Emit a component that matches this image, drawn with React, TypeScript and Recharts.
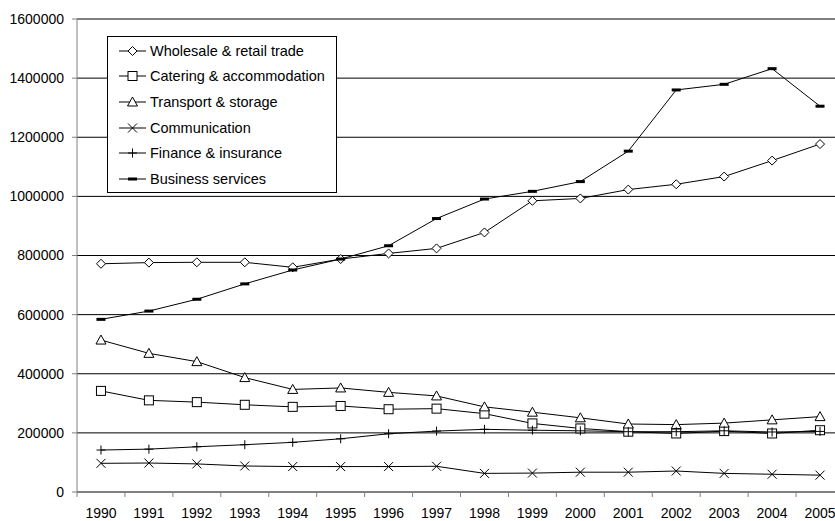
import React from 'react'
import { LineChart, Line, XAxis, YAxis, CartesianGrid, Legend } from 'recharts'

// categories
const years = ['1990', '1991', '1992', '1993', '1994', '1995', '1996', '1997', '1998', '1999', '2000', '2001', '2002', '2003', '2004', '2005']

// series values
const wholesale = [772000, 776000, 777000, 777000, 760000, 788000, 807000, 824000, 878000, 985000, 993000, 1023000, 1041000, 1067000, 1121000, 1177000]
const catering = [342000, 310000, 304000, 295000, 288000, 291000, 280000, 282000, 265000, 232000, 215000, 204000, 198000, 206000, 198000, 209000]
const transport = [514000, 469000, 441000, 387000, 347000, 352000, 337000, 325000, 288000, 270000, 251000, 230000, 228000, 233000, 244000, 255000]
const communication = [97000, 98000, 95000, 88000, 86000, 86000, 86000, 87000, 63000, 64000, 67000, 67000, 71000, 63000, 60000, 57000]
const finance = [142000, 145000, 153000, 160000, 168000, 180000, 197000, 206000, 212000, 209000, 207000, 204000, 204000, 207000, 203000, 205000]
const business = [584000, 612000, 652000, 704000, 751000, 788000, 833000, 925000, 991000, 1017000, 1050000, 1153000, 1360000, 1379000, 1432000, 1305000]

// y tick labels
const yTicks = [0, 200000, 400000, 600000, 800000, 1000000, 1200000, 1400000, 1600000]

const series = [
  { key: 'wholesale', name: 'Wholesale & retail trade', shape: 'diamond' },
  { key: 'catering', name: 'Catering & accommodation', shape: 'square' },
  { key: 'transport', name: 'Transport & storage', shape: 'triangle' },
  { key: 'communication', name: 'Communication', shape: 'cross' },
  { key: 'finance', name: 'Finance & insurance', shape: 'plus' },
  { key: 'business', name: 'Business services', shape: 'dash' },
]

const data = years.map((year, i) => ({
  year,
  wholesale: wholesale[i],
  catering: catering[i],
  transport: transport[i],
  communication: communication[i],
  finance: finance[i],
  business: business[i],
}))

const FONT = 'Arial, "Liberation Sans", sans-serif'
const CHART_W = 860
const CHART_H = 521
const PLOT_LEFT = 77
const PLOT_RIGHT = 844
const PLOT_BOTTOM = 492
const BAND = (PLOT_RIGHT - PLOT_LEFT) / years.length

// marker glyphs, shared by the lines and the legend
function Marker({ shape, cx, cy }: { shape: string; cx: number; cy: number }) {
  const r = 4.5
  switch (shape) {
    case 'diamond':
      return (
        <polygon
          points={`${cx},${cy - r} ${cx + r},${cy} ${cx},${cy + r} ${cx - r},${cy}`}
          fill="#fff"
          stroke="#000"
          strokeWidth={1}
        />
      )
    case 'square':
      return <rect x={cx - r} y={cy - r} width={2 * r} height={2 * r} fill="#fff" stroke="#000" strokeWidth={1} />
    case 'triangle':
      return (
        <polygon
          points={`${cx},${cy - 5} ${cx + 5},${cy + 4} ${cx - 5},${cy + 4}`}
          fill="#fff"
          stroke="#000"
          strokeWidth={1}
        />
      )
    case 'cross':
      return (
        <g stroke="#000" strokeWidth={1}>
          <line x1={cx - r} y1={cy - r} x2={cx + r} y2={cy + r} />
          <line x1={cx - r} y1={cy + r} x2={cx + r} y2={cy - r} />
        </g>
      )
    case 'plus':
      return (
        <g stroke="#000" strokeWidth={1}>
          <line x1={cx - r} y1={cy} x2={cx + r} y2={cy} />
          <line x1={cx} y1={cy - r} x2={cx} y2={cy + r} />
        </g>
      )
    default:
      return <rect x={cx - 4.5} y={cy - 1.5} width={9} height={3} fill="#000" />
  }
}

// x tick: label at category centre, tick mark between categories
function YearTick(props: any) {
  const { x, y, payload, index } = props
  const half = BAND / 2
  return (
    <g>
      <line x1={x - half} x2={x - half} y1={PLOT_BOTTOM} y2={PLOT_BOTTOM + 5} stroke="#808080" />
      {index === years.length - 1 && (
        <line x1={x + half} x2={x + half} y1={PLOT_BOTTOM} y2={PLOT_BOTTOM + 5} stroke="#808080" />
      )}
      <text x={x} y={y} dy="0.71em" textAnchor="middle" fill="#000" fontSize={14} fontFamily={FONT}>
        {payload.value}
      </text>
    </g>
  )
}

function LegendBox() {
  return (
    <div
      style={{
        boxSizing: 'border-box',
        width: 230,
        height: 157,
        border: '1px solid #000',
        background: '#fff',
        paddingTop: 1,
        fontFamily: FONT,
        fontSize: 14.5,
        color: '#000',
      }}
    >
      {series.map((s) => (
        <div key={s.key} style={{ display: 'flex', alignItems: 'center', height: 25.6 }}>
          <svg width={42} height={16} style={{ display: 'block' }}>
            <line x1={11} x2={38} y1={8} y2={8} stroke="#000" strokeWidth={1} />
            <Marker shape={s.shape} cx={24.5} cy={8} />
          </svg>
          <span style={{ whiteSpace: 'nowrap' }}>{s.name}</span>
        </div>
      ))}
    </div>
  )
}

export default function App() {
  return (
    <div
      style={{
        position: 'absolute',
        left: 0,
        top: 0,
        width: 835,
        height: 521,
        overflow: 'hidden',
        background: '#fff',
      }}
    >
      <LineChart width={CHART_W} height={CHART_H} data={data} margin={{ top: 19, right: CHART_W - PLOT_RIGHT, bottom: 0, left: 0 }}>
        <CartesianGrid vertical={false} stroke="#000" strokeWidth={1} />
        <XAxis
          dataKey="year"
          interval={0}
          height={29}
          padding={{ left: BAND / 2, right: BAND / 2 }}
          axisLine={{ stroke: '#808080' }}
          tickLine={false}
          tickSize={5}
          tickMargin={11}
          tick={<YearTick />}
        />
        <YAxis
          width={PLOT_LEFT}
          domain={[0, 1600000]}
          ticks={yTicks}
          interval={0}
          axisLine={{ stroke: '#808080' }}
          tickLine={{ stroke: '#808080' }}
          tickSize={5}
          tickMargin={8}
          tick={{ fill: '#000', fontSize: 14, fontFamily: FONT }}
        />
        {series.map((s) => (
          <Line
            key={s.key}
            type="linear"
            dataKey={s.key}
            name={s.name}
            stroke="#000"
            strokeWidth={1}
            isAnimationActive={false}
            activeDot={false}
            dot={(p: any) => <Marker key={`${s.key}-${p.index}`} shape={s.shape} cx={p.cx} cy={p.cy} />}
          />
        ))}
        <Legend
          layout="vertical"
          align="center"
          verticalAlign="middle"
          content={<LegendBox />}
          wrapperStyle={{ top: 36, left: 107, width: 230, height: 157, bottom: 'auto', right: 'auto' }}
        />
      </LineChart>
    </div>
  )
}
